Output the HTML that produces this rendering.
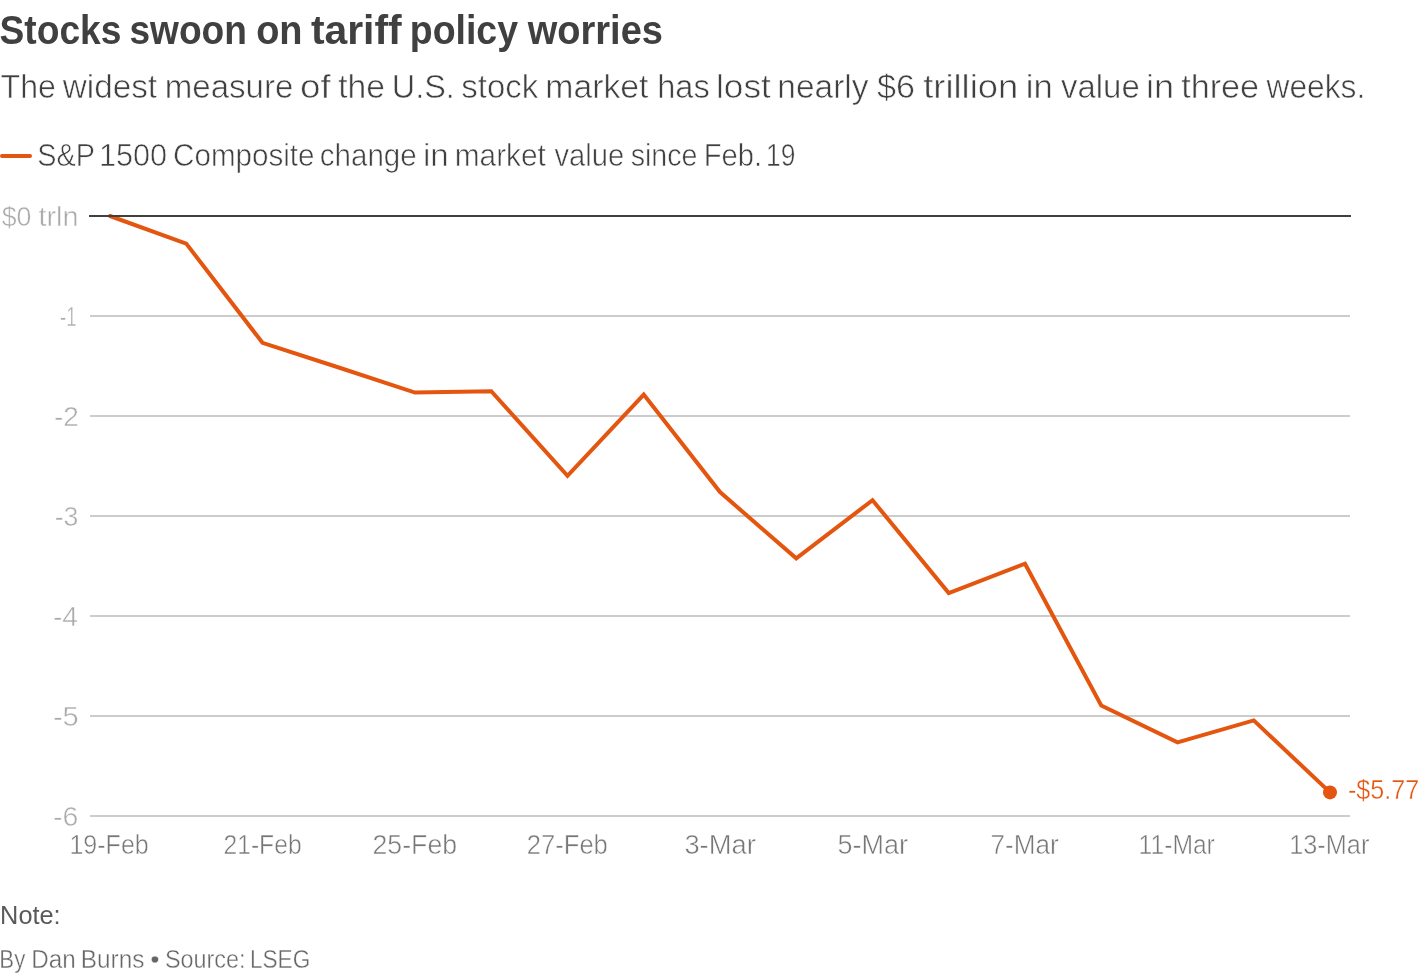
<!DOCTYPE html>
<html><head><meta charset="utf-8"><style>
html,body{margin:0;padding:0;background:#fff;width:1420px;height:974px;overflow:hidden}
svg{display:block;will-change:transform}
text{font-family:"Liberation Sans",sans-serif}
</style></head><body>
<svg width="1420" height="974" viewBox="0 0 1420 974">
<rect x="0" y="0" width="1420" height="974" fill="#fff"/>
<line x1="2" y1="156" x2="30" y2="156" stroke="#e4560f" stroke-width="4" stroke-linecap="round"/>
<rect x="90" y="315" width="1260" height="2" fill="#cccccc"/>
<rect x="90" y="415" width="1260" height="2" fill="#cccccc"/>
<rect x="90" y="515" width="1260" height="2" fill="#cccccc"/>
<rect x="90" y="615" width="1260" height="2" fill="#cccccc"/>
<rect x="90" y="715" width="1260" height="2" fill="#cccccc"/>
<rect x="90" y="815" width="1260" height="2" fill="#cccccc"/>
<polyline points="110.00,216.00 186.25,243.60 262.50,342.80 338.75,367.50 415.00,392.60 491.25,391.20 567.50,475.80 643.75,394.60 720.00,492.10 796.25,558.30 872.50,500.20 948.75,593.00 1025.00,563.70 1101.25,705.50 1177.50,742.30 1253.75,720.40 1330.00,792.40" fill="none" stroke="#e4560f" stroke-width="4" stroke-linejoin="miter" stroke-linecap="round"/>
<rect x="89" y="215" width="1262" height="2" fill="#404040"/>
<circle cx="1330" cy="792.4" r="7" fill="#e4560f"/>
<text x="-0.40" y="44" font-size="40" fill="#404040" font-weight="bold" textLength="121.76" lengthAdjust="spacingAndGlyphs">Stocks</text>
<text x="129.50" y="44" font-size="40" fill="#404040" font-weight="bold" textLength="117.40" lengthAdjust="spacingAndGlyphs">swoon</text>
<text x="256.20" y="44" font-size="40" fill="#404040" font-weight="bold" textLength="46.36" lengthAdjust="spacingAndGlyphs">on</text>
<text x="310.90" y="44" font-size="40" fill="#404040" font-weight="bold" textLength="90.79" lengthAdjust="spacingAndGlyphs">tariff</text>
<text x="409.80" y="44" font-size="40" fill="#404040" font-weight="bold" textLength="108.20" lengthAdjust="spacingAndGlyphs">policy</text>
<text x="527.80" y="44" font-size="40" fill="#404040" font-weight="bold" textLength="135.15" lengthAdjust="spacingAndGlyphs">worries</text>
<text x="0.60" y="97.7" font-size="33.5" fill="#404040" textLength="55.21" lengthAdjust="spacingAndGlyphs" stroke="#fff" stroke-width="0.6">The</text>
<text x="62.80" y="97.7" font-size="33.5" fill="#404040" textLength="94.29" lengthAdjust="spacingAndGlyphs" stroke="#fff" stroke-width="0.6">widest</text>
<text x="164.80" y="97.7" font-size="33.5" fill="#404040" textLength="128.60" lengthAdjust="spacingAndGlyphs" stroke="#fff" stroke-width="0.6">measure</text>
<text x="300.00" y="97.7" font-size="33.5" fill="#404040" textLength="30.67" lengthAdjust="spacingAndGlyphs" stroke="#fff" stroke-width="0.6">of</text>
<text x="338.20" y="97.7" font-size="33.5" fill="#404040" textLength="46.75" lengthAdjust="spacingAndGlyphs" stroke="#fff" stroke-width="0.6">the</text>
<text x="391.80" y="97.7" font-size="33.5" fill="#404040" textLength="63.06" lengthAdjust="spacingAndGlyphs" stroke="#fff" stroke-width="0.6">U.S.</text>
<text x="461.30" y="97.7" font-size="33.5" fill="#404040" textLength="76.88" lengthAdjust="spacingAndGlyphs" stroke="#fff" stroke-width="0.6">stock</text>
<text x="545.30" y="97.7" font-size="33.5" fill="#404040" textLength="103.21" lengthAdjust="spacingAndGlyphs" stroke="#fff" stroke-width="0.6">market</text>
<text x="657.20" y="97.7" font-size="33.5" fill="#404040" textLength="52.54" lengthAdjust="spacingAndGlyphs" stroke="#fff" stroke-width="0.6">has</text>
<text x="716.00" y="97.7" font-size="33.5" fill="#404040" textLength="54.89" lengthAdjust="spacingAndGlyphs" stroke="#fff" stroke-width="0.6">lost</text>
<text x="777.30" y="97.7" font-size="33.5" fill="#404040" textLength="91.19" lengthAdjust="spacingAndGlyphs" stroke="#fff" stroke-width="0.6">nearly</text>
<text x="877.00" y="97.7" font-size="33.5" fill="#404040" textLength="37.95" lengthAdjust="spacingAndGlyphs" stroke="#fff" stroke-width="0.6">$6</text>
<text x="923.20" y="97.7" font-size="33.5" fill="#404040" textLength="95.14" lengthAdjust="spacingAndGlyphs" stroke="#fff" stroke-width="0.6">trillion</text>
<text x="1025.70" y="97.7" font-size="33.5" fill="#404040" textLength="26.96" lengthAdjust="spacingAndGlyphs" stroke="#fff" stroke-width="0.6">in</text>
<text x="1061.10" y="97.7" font-size="33.5" fill="#404040" textLength="78.59" lengthAdjust="spacingAndGlyphs" stroke="#fff" stroke-width="0.6">value</text>
<text x="1146.10" y="97.7" font-size="33.5" fill="#404040" textLength="28.14" lengthAdjust="spacingAndGlyphs" stroke="#fff" stroke-width="0.6">in</text>
<text x="1181.20" y="97.7" font-size="33.5" fill="#404040" textLength="77.89" lengthAdjust="spacingAndGlyphs" stroke="#fff" stroke-width="0.6">three</text>
<text x="1266.60" y="97.7" font-size="33.5" fill="#404040" textLength="98.65" lengthAdjust="spacingAndGlyphs" stroke="#fff" stroke-width="0.6">weeks.</text>
<text x="37.30" y="166" font-size="31.2" fill="#404040" textLength="57.64" lengthAdjust="spacingAndGlyphs" stroke="#fff" stroke-width="0.6">S&amp;P</text>
<text x="98.90" y="166" font-size="31.2" fill="#404040" textLength="68.32" lengthAdjust="spacingAndGlyphs" stroke="#fff" stroke-width="0.6">1500</text>
<text x="173.10" y="166" font-size="31.2" fill="#404040" textLength="141.45" lengthAdjust="spacingAndGlyphs" stroke="#fff" stroke-width="0.6">Composite</text>
<text x="319.80" y="166" font-size="31.2" fill="#404040" textLength="96.83" lengthAdjust="spacingAndGlyphs" stroke="#fff" stroke-width="0.6">change</text>
<text x="422.90" y="166" font-size="31.2" fill="#404040" textLength="25.81" lengthAdjust="spacingAndGlyphs" stroke="#fff" stroke-width="0.6">in</text>
<text x="454.70" y="166" font-size="31.2" fill="#404040" textLength="91.23" lengthAdjust="spacingAndGlyphs" stroke="#fff" stroke-width="0.6">market</text>
<text x="554.50" y="166" font-size="31.2" fill="#404040" textLength="69.70" lengthAdjust="spacingAndGlyphs" stroke="#fff" stroke-width="0.6">value</text>
<text x="630.70" y="166" font-size="31.2" fill="#404040" textLength="66.80" lengthAdjust="spacingAndGlyphs" stroke="#fff" stroke-width="0.6">since</text>
<text x="703.70" y="166" font-size="31.2" fill="#404040" textLength="58.39" lengthAdjust="spacingAndGlyphs" stroke="#fff" stroke-width="0.6">Feb.</text>
<text x="766.00" y="166" font-size="31.2" fill="#404040" textLength="29.43" lengthAdjust="spacingAndGlyphs" stroke="#fff" stroke-width="0.6">19</text>
<text x="1.70" y="226" font-size="27.5" fill="#aaa" textLength="29.72" lengthAdjust="spacingAndGlyphs" stroke="#fff" stroke-width="0.5">$0</text>
<text x="38.40" y="226" font-size="27.5" fill="#aaa" textLength="40.08" lengthAdjust="spacingAndGlyphs" stroke="#fff" stroke-width="0.5">trln</text>
<text x="60.00" y="325.8" font-size="27.5" fill="#aaa" textLength="16.67" lengthAdjust="spacingAndGlyphs" stroke="#fff" stroke-width="0.5">-1</text>
<text x="53.90" y="425.8" font-size="27.5" fill="#aaa" textLength="24.92" lengthAdjust="spacingAndGlyphs" stroke="#fff" stroke-width="0.5">-2</text>
<text x="54.70" y="525.8" font-size="27.5" fill="#aaa" textLength="23.73" lengthAdjust="spacingAndGlyphs" stroke="#fff" stroke-width="0.5">-3</text>
<text x="52.90" y="625.8" font-size="27.5" fill="#aaa" textLength="25.05" lengthAdjust="spacingAndGlyphs" stroke="#fff" stroke-width="0.5">-4</text>
<text x="52.90" y="725.8" font-size="27.5" fill="#aaa" textLength="25.89" lengthAdjust="spacingAndGlyphs" stroke="#fff" stroke-width="0.5">-5</text>
<text x="52.90" y="825.8" font-size="27.5" fill="#aaa" textLength="25.42" lengthAdjust="spacingAndGlyphs" stroke="#fff" stroke-width="0.5">-6</text>
<text x="69.40" y="853.9" font-size="27" fill="#777" textLength="79.36" lengthAdjust="spacingAndGlyphs" stroke="#fff" stroke-width="0.5">19-Feb</text>
<text x="223.50" y="853.9" font-size="27" fill="#777" textLength="78.11" lengthAdjust="spacingAndGlyphs" stroke="#fff" stroke-width="0.5">21-Feb</text>
<text x="372.50" y="853.9" font-size="27" fill="#777" textLength="84.58" lengthAdjust="spacingAndGlyphs" stroke="#fff" stroke-width="0.5">25-Feb</text>
<text x="526.80" y="853.9" font-size="27" fill="#777" textLength="81.06" lengthAdjust="spacingAndGlyphs" stroke="#fff" stroke-width="0.5">27-Feb</text>
<text x="684.40" y="853.9" font-size="27" fill="#777" textLength="71.44" lengthAdjust="spacingAndGlyphs" stroke="#fff" stroke-width="0.5">3-Mar</text>
<text x="837.40" y="853.9" font-size="27" fill="#777" textLength="70.60" lengthAdjust="spacingAndGlyphs" stroke="#fff" stroke-width="0.5">5-Mar</text>
<text x="990.50" y="853.9" font-size="27" fill="#777" textLength="68.13" lengthAdjust="spacingAndGlyphs" stroke="#fff" stroke-width="0.5">7-Mar</text>
<text x="1138.60" y="853.9" font-size="27" fill="#777" textLength="76.25" lengthAdjust="spacingAndGlyphs" stroke="#fff" stroke-width="0.5">11-Mar</text>
<text x="1289.20" y="853.9" font-size="27" fill="#777" textLength="80.15" lengthAdjust="spacingAndGlyphs" stroke="#fff" stroke-width="0.5">13-Mar</text>
<text x="1348.00" y="798.7" font-size="27" fill="#e4560f" textLength="71.31" lengthAdjust="spacingAndGlyphs" stroke="#fff" stroke-width="0.4">-$5.77</text>
<text x="0.10" y="924.1" font-size="25.3" fill="#5a5a5a" textLength="60.56" lengthAdjust="spacingAndGlyphs">Note:</text>
<text x="-0.70" y="967.7" font-size="25" fill="#666" textLength="26.00" lengthAdjust="spacingAndGlyphs" stroke="#fff" stroke-width="0.4">By</text>
<text x="31.20" y="967.7" font-size="25" fill="#666" textLength="44.49" lengthAdjust="spacingAndGlyphs" stroke="#fff" stroke-width="0.4">Dan</text>
<text x="80.70" y="967.7" font-size="25" fill="#666" textLength="63.69" lengthAdjust="spacingAndGlyphs" stroke="#fff" stroke-width="0.4">Burns</text>
<text x="150.20" y="967.7" font-size="25" fill="#666" textLength="9.36" lengthAdjust="spacingAndGlyphs" stroke="#fff" stroke-width="0.4">•</text>
<text x="164.90" y="967.7" font-size="25" fill="#666" textLength="80.59" lengthAdjust="spacingAndGlyphs" stroke="#fff" stroke-width="0.4">Source:</text>
<text x="249.90" y="967.7" font-size="25" fill="#666" textLength="60.36" lengthAdjust="spacingAndGlyphs" stroke="#fff" stroke-width="0.4">LSEG</text>
</svg>
</body></html>
